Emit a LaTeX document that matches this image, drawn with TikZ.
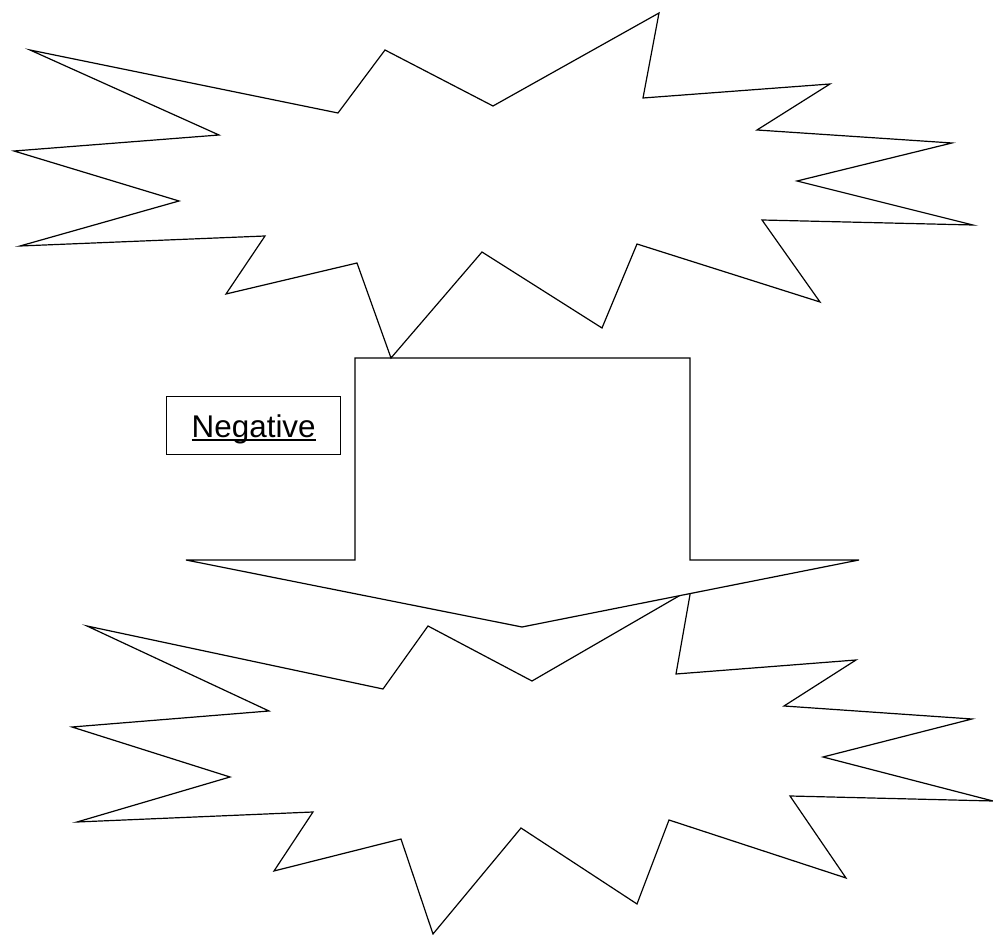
\documentclass[tikz,border=0pt]{standalone}
\usepackage{fontspec}
\setmainfont{Liberation Sans}
\usepackage{tikz}

\newcommand{\ulword}[1]{\setbox0\hbox{#1}\rlap{\rule[-1.8pt]{\wd0}{0.9pt}}\box0}

\tikzset{
    burst/.style={draw, line width=0.6pt},
    downarrow/.style={draw, fill=white, line width=0.6pt},
    labelbox/.style={draw, line width=0.6pt, minimum width=87pt, minimum height=29pt,
        inner sep=0pt, text depth=0pt, font=\fontsize{15.7}{18}\selectfont}
}

\begin{document}
\begin{tikzpicture}[x=0.5pt, y=-0.5pt]
        \useasboundingbox[fill=white] (0, 0) rectangle (993, 935);
        % lower burst, partly under the arrow
        \draw[burst] (87, 626) -- (383, 689) -- (428, 626) -- (532, 681)
            -- (691, 589) -- (676, 674) -- (856, 660) -- (784, 706)
            -- (972, 719) -- (823, 757) -- (993, 801) -- (790, 796)
            -- (846, 878) -- (669, 820) -- (637, 904) -- (521, 828)
            -- (433, 934) -- (401, 839) -- (274, 871) -- (313, 812)
            -- (77, 822) -- (230, 777) -- (72, 727) -- (269, 711) -- cycle;
        % big arrow
        \draw[downarrow] (355, 358) -- (690, 358) -- (690, 560) -- (859, 560)
            -- (522, 627) -- (186, 560) -- (355, 560) -- cycle;
        % upper burst
        \draw[burst] (30, 50) -- (338, 113) -- (385, 50) -- (493, 106)
            -- (659, 13) -- (643, 98) -- (830, 84) -- (757, 130)
            -- (952, 143) -- (797, 181) -- (973, 225) -- (762, 220)
            -- (820, 302) -- (637, 244) -- (602, 328) -- (482, 252)
            -- (391, 358) -- (357, 263) -- (226, 294) -- (265, 236)
            -- (20, 246) -- (179, 201) -- (14, 151) -- (219, 135) -- cycle;
        \node[labelbox] (neg) at (253.7, 425.8) {\ulword{Negative}};
    \end{tikzpicture}
\end{document}
